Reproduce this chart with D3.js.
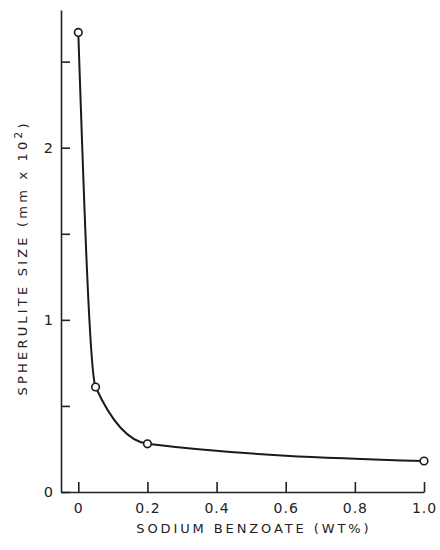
<!DOCTYPE html>
<html>
<head>
<meta charset="utf-8">
<script src="https://cdn.jsdelivr.net/npm/d3@7"></script>
<style>
  body { margin: 0; background: #fff; }
  text { font-family: "DejaVu Sans", sans-serif; fill: #222; }
  .axis path, .axis line { stroke: #222; stroke-width: 1.6; }
</style>
</head>
<body>
<div id="chart"></div>
<script>
  'use strict';

  // sodium benzoate content (wt%) vs spherulite size (mm x 10^2)
  const benzoate = [0, 0.05, 0.2, 1.0];
  const spheruliteSize = [2.67, 0.61, 0.28, 0.18];

  const xTicks = [0, 0.2, 0.4, 0.6, 0.8, 1.0];
  const xTickLabels = ["0", "0.2", "0.4", "0.6", "0.8", "1.0"];
  const yTicks = [0, 0.5, 1, 1.5, 2, 2.5];
  const yTickLabels = { 0: "0", 1: "1", 2: "2" };

  const size = { width: 440, height: 550 };
  const margin = { top: 10, right: 16, bottom: 58, left: 61 };
  const width = size.width - margin.left - margin.right;
  const height = size.height - margin.top - margin.bottom;

  const xScale = d3.scaleLinear().domain([-0.05, 1.0]).range([0, width]);
  const yScale = d3.scaleLinear().domain([0, 2.8]).range([height, 0]);

  const svg = d3.select("#chart").append("svg")
      .attr("width", size.width)
      .attr("height", size.height);

  const graph = svg.append("g")
      .attr("transform", "translate(" + margin.left + "," + margin.top + ")");

  // ticks point inward, like the original figure
  const xAxis = d3.axisBottom(xScale)
      .tickValues(xTicks)
      .tickSizeInner(-10)
      .tickSizeOuter(0)
      .tickPadding(8)
      .tickFormat((d, i) => xTickLabels[i]);

  const yAxis = d3.axisLeft(yScale)
      .tickValues(yTicks)
      .tickSizeInner(-9)
      .tickSizeOuter(0)
      .tickPadding(8)
      .tickFormat(d => yTickLabels[d] || "");

  const gx = graph.append("g")
      .attr("class", "x axis")
      .attr("transform", "translate(0," + height + ")")
      .call(xAxis);
  gx.selectAll("text")
      .attr("dy", "0.95em")
      .style("font-size", "14px")
      .style("letter-spacing", "1px");

  const gy = graph.append("g")
      .attr("class", "y axis")
      .call(yAxis);
  gy.selectAll("text")
      .style("font-size", "14.5px");

  graph.append("text")
      .attr("text-anchor", "middle")
      .attr("x", xScale(0.508))
      .attr("y", height + 41)
      .style("font-size", "13px")
      .style("letter-spacing", "2.9px")
      .text("SODIUM BENZOATE (WT%)");

  const ylabel = graph.append("text")
      .attr("text-anchor", "middle")
      .attr("transform", "rotate(-90)")
      .attr("x", -(yScale(1.36)))
      .attr("y", -34)
      .style("font-size", "13px")
      .style("letter-spacing", "3.2px");
  ylabel.append("tspan").text("SPHERULITE SIZE (mm x 10");
  ylabel.append("tspan")
      .attr("dy", "-0.45em")
      .style("font-size", "10.5px")
      .text("2");
  ylabel.append("tspan")
      .attr("dy", "0.45em")
      .text(")");

  const points = benzoate.map((b, i) => ({ x: b, y: spheruliteSize[i] }));

  const line = d3.line()
      .x(d => xScale(d.x))
      .y(d => yScale(d.y))
      .curve(d3.curveMonotoneX);

  graph.append("path")
      .datum(points)
      .attr("fill", "none")
      .attr("stroke", "#1a1a1a")
      .attr("stroke-width", 2)
      .attr("d", line);

  graph.selectAll(".pt")
      .data(points)
      .enter().append("circle")
      .attr("class", "pt")
      .attr("cx", d => xScale(d.x))
      .attr("cy", d => yScale(d.y))
      .attr("r", 3.8)
      .attr("fill", "#fff")
      .attr("stroke", "#1a1a1a")
      .attr("stroke-width", 1.6);
</script>
</body>
</html>
